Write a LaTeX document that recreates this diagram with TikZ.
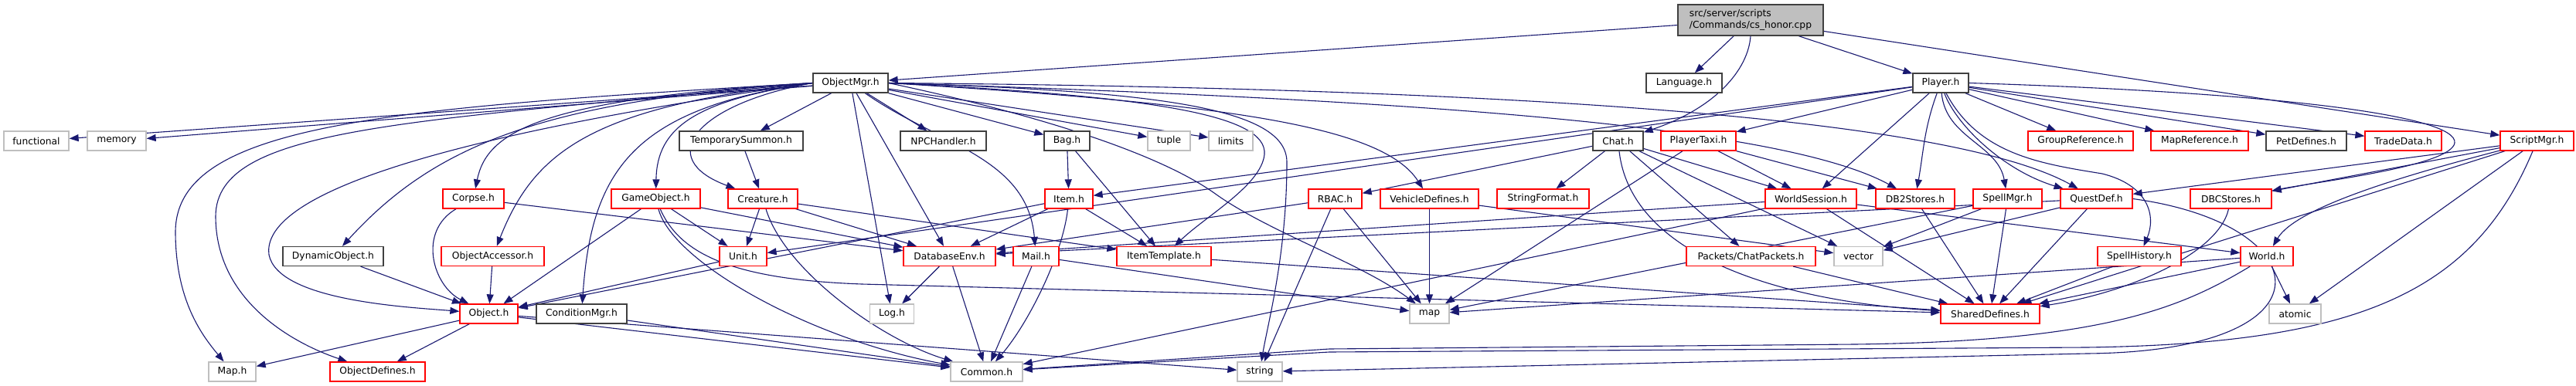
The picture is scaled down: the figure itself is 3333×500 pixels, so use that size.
\documentclass[tikz,border=0pt]{standalone}
\usepackage{fontspec}
\setmainfont{DejaVu Sans}
\usetikzlibrary{arrows.meta,backgrounds}
\definecolor{edgec}{HTML}{191970}
\definecolor{redb}{HTML}{FF0000}
\definecolor{blackb}{HTML}{404040}
\definecolor{grayb}{HTML}{BFBFBF}
\definecolor{rootf}{HTML}{BFBFBF}
\tikzset{
 box/.style={rectangle, draw, fill=white, minimum height=25pt, inner sep=0pt, line width=1.3pt, font=\fontsize{12.3}{14.5}\selectfont, text=black},
 rn/.style={box, draw=redb},
 bn/.style={box, draw=blackb},
 gn/.style={box, draw=grayb},
 ed/.style={draw=edgec, line width=1.1pt, -{Triangle[length=12pt,width=9pt]}},
}
\begin{document}
\begin{tikzpicture}[x=1pt,y=-1pt]
\useasboundingbox (0,0) rectangle (3333,500);
% row 0/1
\node[bn, minimum width=188pt, minimum height=40pt, fill=rootf, align=left] (root) at (2265,26) {src/server/scripts\\/Commands/cs\_honor.cpp};
\node[bn, minimum width=97pt] (omgr) at (1100.5,107.5) {ObjectMgr.h};
\node[bn, minimum width=98pt] (lang) at (2179,107.5) {Language.h};
\node[bn, minimum width=72pt] (player) at (2511,107.5) {Player.h};
% row 2
\node[gn, minimum width=84pt] (func) at (47,182.5) {functional};
\node[gn, minimum width=76pt] (mem) at (151,182.5) {memory};
\node[bn, minimum width=160pt] (tsum) at (959,182.5) {TemporarySummon.h};
\node[bn, minimum width=111pt] (npc) at (1220.5,182.5) {NPCHandler.h};
\node[bn, minimum width=59pt] (bag) at (1380.5,182.5) {Bag.h};
\node[gn, minimum width=55pt] (tuple) at (1512.5,182.5) {tuple};
\node[gn, minimum width=57pt] (limits) at (1592.5,182.5) {limits};
\node[bn, minimum width=65pt] (chat) at (2093.5,182.5) {Chat.h};
\node[rn, minimum width=97pt] (ptaxi) at (2197.5,182.5) {PlayerTaxi.h};
\node[rn, minimum width=136pt] (gref) at (2692,182.5) {GroupReference.h};
\node[rn, minimum width=126pt] (mref) at (2846,182.5) {MapReference.h};
\node[bn, minimum width=104pt] (pet) at (2984,182.5) {PetDefines.h};
\node[rn, minimum width=99pt] (trade) at (3109.5,182.5) {TradeData.h};
\node[rn, minimum width=95pt] (smgr) at (3282.5,182.5) {ScriptMgr.h};
% row 3
\node[rn, minimum width=79pt] (corpse) at (612.5,257.5) {Corpse.h};
\node[rn, minimum width=115pt] (gobj) at (848.5,257.5) {GameObject.h};
\node[rn, minimum width=90pt] (crea) at (987,257.5) {Creature.h};
\node[rn, minimum width=62pt] (item) at (1383,257.5) {Item.h};
\node[rn, minimum width=69pt] (rbac) at (1727.5,257.5) {RBAC.h};
\node[rn, minimum width=127pt] (veh) at (1849.5,257.5) {VehicleDefines.h};
\node[rn, minimum width=119pt] (sfmt) at (1996.5,257.5) {StringFormat.h};
\node[rn, minimum width=118pt] (wses) at (2343,257.5) {WorldSession.h};
\node[rn, minimum width=102pt] (db2) at (2478,257.5) {DB2Stores.h};
\node[rn, minimum width=89pt] (spmgr) at (2597.5,257.5) {SpellMgr.h};
\node[rn, minimum width=93pt] (quest) at (2712.5,257.5) {QuestDef.h};
\node[rn, minimum width=105pt] (dbc) at (2886.5,257.5) {DBCStores.h};
% row 4
\node[bn, minimum width=130pt] (dyn) at (431,332) {DynamicObject.h};
\node[rn, minimum width=133pt] (oacc) at (637.5,332) {ObjectAccessor.h};
\node[rn, minimum width=61pt] (unit) at (961.5,332) {Unit.h};
\node[rn, minimum width=119pt] (dbenv) at (1228.5,332) {DatabaseEnv.h};
\node[rn, minimum width=59pt] (mail) at (1340.5,332) {Mail.h};
\node[rn, minimum width=122pt] (itmpl) at (1506,332) {ItemTemplate.h};
\node[rn, minimum width=167pt] (cpk) at (2265.5,332) {Packets/ChatPackets.h};
\node[gn, minimum width=63pt] (vec) at (2404.5,332) {vector};
\node[rn, minimum width=108pt] (sphist) at (2768,332) {SpellHistory.h};
\node[rn, minimum width=68pt] (world) at (2933,332) {World.h};
% row 5
\node[rn, minimum width=75pt] (obj) at (632.5,406.5) {Object.h};
\node[bn, minimum width=117pt] (cond) at (752.5,406.5) {ConditionMgr.h};
\node[gn, minimum width=57pt] (log) at (1154,406.5) {Log.h};
\node[gn, minimum width=51pt] (map) at (1849.5,406.5) {map};
\node[rn, minimum width=128pt] (shdef) at (2575,406.5) {SharedDefines.h};
\node[gn, minimum width=67pt] (atomic) at (2969.5,406.5) {atomic};
% row 6
\node[gn, minimum width=61pt] (maph) at (300.5,481.5) {Map.h};
\node[rn, minimum width=123pt] (odef) at (488.5,481.5) {ObjectDefines.h};
\node[gn, minimum width=93pt] (common) at (1276.5,481.5) {Common.h};
\node[gn, minimum width=58pt] (str) at (1630,481.5) {string};

\begin{scope}[on background layer]
% root
\draw[ed] (root) -- (omgr);
\draw[ed] (root) -- (lang);
\draw[ed] (root.south) .. controls (2262,90) and (2220,140) .. (chat);
\draw[ed] (root) -- (player);
\draw[ed] (root) -- (smgr);
% ObjectMgr
\draw[ed] (omgr) -- (func);
\draw[ed] (omgr) -- (mem);
\draw[ed] (omgr.west) .. controls (500,140) and (228,160) .. (227,300) .. controls (227,390) and (262,435) .. (maph);
\draw[ed] (omgr.west) .. controls (520,158) and (280,165) .. (279,280) .. controls (279,390) and (380,445) .. (odef);
\draw[ed] (omgr.west) .. controls (470,190) and (340,270) .. (348,330) .. controls (360,390) and (530,398) .. (obj);
\draw[ed] (omgr.west) .. controls (700,130) and (560,190) .. (dyn);
\draw[ed] (omgr.west) .. controls (700,128) and (630,170) .. (corpse);
\draw[ed] (omgr.west) .. controls (760,138) and (690,200) .. (oacc);
\draw[ed] (omgr.west) .. controls (820,140) and (765,220) .. (cond);
\draw[ed] (omgr.west) .. controls (900,130) and (850,165) .. (gobj);
\draw[ed] (omgr.west) .. controls (900,135) and (845,205) .. (crea);
\draw[ed] (omgr) -- (tsum);
\draw[ed] (omgr) -- (npc);
\draw[ed] (omgr) -- (bag);
\draw[ed] (omgr) -- (tuple);
\draw[ed] (omgr) -- (limits);
\draw[ed] (omgr) -- (log);
\draw[ed] (omgr) -- (dbenv);
\draw[ed] (omgr) to[out=-35,in=95] (mail);
\draw[ed] (omgr.east) .. controls (1350,150) and (1500,200) .. (1571,250) .. controls (1640,300) and (1760,340) .. (map);
\draw[ed] (omgr.east) .. controls (1500,125) and (1640,150) .. (1636,200) .. controls (1632,240) and (1560,280) .. (itmpl);
\draw[ed] (omgr.east) .. controls (1500,118) and (1665,140) .. (1665,210) .. controls (1665,330) and (1640,420) .. (str);
\draw[ed] (omgr.east) .. controls (1600,135) and (1790,165) .. (veh);
\draw[ed] (omgr.east) .. controls (1800,128) and (2300,160) .. (db2);
\draw[ed] (omgr.east) .. controls (1800,113) and (2500,140) .. (quest);
% Player
\draw[ed] (player) -- (ptaxi);
\draw[ed] (player) -- (item);
\draw[ed] (player) -- (unit);
\draw[ed] (player) -- (wses);
\draw[ed] (player) to[out=-110,in=80] (db2);
\draw[ed] (player) to[out=-85,in=100] (spmgr);
\draw[ed] (player) .. controls (2530,160) and (2590,220) .. (quest);
\draw[ed] (player) .. controls (2560,200) and (2640,212) .. (2720,225) .. controls (2780,240) and (2790,280) .. (sphist);
\draw[ed] (player) -- (gref);
\draw[ed] (player) -- (mref);
\draw[ed] (player) -- (pet);
\draw[ed] (player) -- (trade);
\draw[ed] (player.east) .. controls (2950,120) and (3180,150) .. (3176,185) .. controls (3172,215) and (3000,235) .. (dbc);
% Chat
\draw[ed] (chat) -- (rbac);
\draw[ed] (chat) -- (sfmt);
\draw[ed] (chat) -- (wses);
\draw[ed] (chat) -- (cpk);
\draw[ed] (chat) -- (vec);
\draw[ed] (chat) .. controls (2110,330) and (2300,390) .. (shdef);
% PlayerTaxi
\draw[ed] (ptaxi) -- (wses);
\draw[ed] (ptaxi) -- (db2);
\draw[ed] (ptaxi) -- (map);
% ScriptMgr
\draw[ed] (smgr) -- (quest);
\draw[ed] (smgr) -- (dbc);
\draw[ed] (smgr) .. controls (3100,230) and (2970,270) .. (world);
\draw[ed] (smgr) -- (shdef);
\draw[ed] (smgr) -- (atomic);
\draw[ed] (smgr) .. controls (3200,380) and (3050,445) .. (2700,450) -- (1720,456) -- (common);
% row 2/3 sources
\draw[ed] (tsum) -- (crea);
\draw[ed] (bag) -- (item);
\draw[ed] (bag) -- (itmpl);
\draw[ed] (corpse) .. controls (540,300) and (560,370) .. (obj);
\draw[ed] (corpse) -- (dbenv);
\draw[ed] (gobj) -- (obj);
\draw[ed] (gobj) -- (unit);
\draw[ed] (gobj) -- (dbenv);
\draw[ed] (gobj) .. controls (870,340) and (1050,440) .. (common);
\draw[ed] (gobj) .. controls (880,330) and (950,362) .. (1115,368) -- (shdef);
\draw[ed] (crea) -- (unit);
\draw[ed] (crea) -- (dbenv);
\draw[ed] (crea) -- (itmpl);
\draw[ed] (crea) .. controls (1015,350) and (1140,440) .. (common);
\draw[ed] (item) -- (dbenv);
\draw[ed] (item) -- (itmpl);
\draw[ed] (item) .. controls (1375,330) and (1330,420) .. (common);
\draw[ed] (item) -- (obj);
\draw[ed] (rbac) -- (dbenv);
\draw[ed] (rbac) -- (map);
\draw[ed] (rbac) -- (str);
\draw[ed] (veh) -- (map);
\draw[ed] (veh) -- (vec);
\draw[ed] (wses) -- (dbenv);
\draw[ed] (wses) -- (shdef);
\draw[ed] (wses) -- (world);
\draw[ed] (wses) -- (common);
\draw[ed] (db2) -- (shdef);
\draw[ed] (spmgr) -- (vec);
\draw[ed] (spmgr) -- (map);
\draw[ed] (spmgr) -- (shdef);
\draw[ed] (quest) -- (vec);
\draw[ed] (quest) -- (dbenv);
\draw[ed] (quest) -- (shdef);
\draw[ed] (quest.east) .. controls (3000,290) and (3030,455) .. (2700,458) -- (str);
\draw[ed] (dbc) .. controls (2870,330) and (2750,380) .. (shdef);
% row 4 sources
\draw[ed] (dyn) -- (obj);
\draw[ed] (oacc) -- (obj);
\draw[ed] (unit) -- (obj);
\draw[ed] (dbenv) -- (log);
\draw[ed] (dbenv) -- (common);
\draw[ed] (mail) -- (common);
\draw[ed] (mail) -- (map);
\draw[ed] (itmpl) -- (shdef);
\draw[ed] (cpk) -- (shdef);
\draw[ed] (sphist) -- (shdef);
\draw[ed] (world) -- (shdef);
\draw[ed] (world) -- (atomic);
\draw[ed] (world) -- (map);
\draw[ed] (world) .. controls (2820,400) and (2720,442) .. (2400,446) -- (1720,452) -- (common);
% row 5 sources
\draw[ed] (obj) -- (maph);
\draw[ed] (obj) -- (odef);
\draw[ed] (obj) -- (common);
\draw[ed] (obj) -- (str);
\draw[ed] (cond) -- (common);
\end{scope}
\end{tikzpicture}
\end{document}
